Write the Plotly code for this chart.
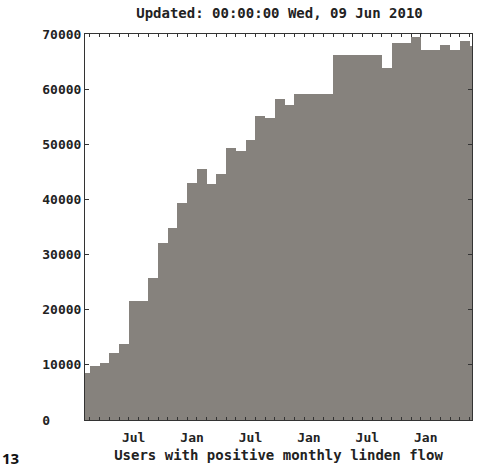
import plotly.graph_objects as go

# Monthly values, Feb 2007 .. Jun 2010 (partial last month)
months = ["2007-02", "2007-03", "2007-04", "2007-05", "2007-06", "2007-07", "2007-08",
          "2007-09", "2007-10", "2007-11", "2007-12", "2008-01", "2008-02", "2008-03",
          "2008-04", "2008-05", "2008-06", "2008-07", "2008-08", "2008-09", "2008-10",
          "2008-11", "2008-12", "2009-01", "2009-02", "2009-03", "2009-04", "2009-05",
          "2009-06", "2009-07", "2009-08", "2009-09", "2009-10", "2009-11", "2009-12",
          "2010-01", "2010-02", "2010-03", "2010-04", "2010-05", "2010-06"]
users = [8600, 9800, 10400, 12200, 13700, 21600, 21600,
         25700, 32100, 34800, 39300, 43000, 45600, 42800,
         44700, 49300, 48700, 50800, 55100, 54700, 58200,
         57100, 59200, 59200, 59200, 59200, 66200, 66200,
         66200, 66200, 66200, 63900, 68300, 68300, 69500,
         67100, 67100, 68000, 67100, 68700, 67900]

tick_months = ["2007-07", "2008-01", "2008-07", "2009-01", "2009-07", "2010-01"]
tick_labels = ["Jul", "Jan", "Jul", "Jan", "Jul", "Jan"]
y_ticks = [0, 10000, 20000, 30000, 40000, 50000, 60000, 70000]
y_tick_text = ["0\u00a0\u00a0\u00a0\u00a0", "10000", "20000", "30000", "40000", "50000", "60000", "70000"]

title = "Updated: 00:00:00 Wed, 09 Jun 2010"
x_title = "Users with positive monthly linden flow"

idx = {m: i for i, m in enumerate(months)}
xs = [i + 0.5 for i in range(len(months))]

FONT = "DejaVu Sans Mono"
fig = go.Figure()
fig.add_trace(go.Bar(x=xs, y=users, width=1.0,
                     marker=dict(color="#86827d", line=dict(width=0))))

fig.update_layout(
    width=477, height=468,
    margin=dict(l=85, r=5, t=34, b=48),
    paper_bgcolor="white", plot_bgcolor="white",
    bargap=0, showlegend=False,
    font=dict(family=FONT, size=12, color="#222"),
    title=dict(text="<b>" + title + "</b>", x=279.5 / 477, xanchor="center",
               y=1 - 13 / 468, yanchor="middle",
               font=dict(family=FONT, size=14, color="#222")),
)
fig.update_xaxes(
    range=[0.5, 40.25],
    tickmode="array",
    tickvals=[idx[m] + 0.5 for m in tick_months],
    ticktext=["<b>" + t + "</b>" for t in tick_labels],
    ticks="", showgrid=False, zeroline=False, ticklabelstandoff=5,
    showline=True, linecolor="#333", linewidth=1, mirror="ticks",
    minor=dict(tickmode="array", tickvals=list(range(1, 41)), ticks="inside",
               ticklen=3, tickcolor="#333", showgrid=False),
    tickfont=dict(family=FONT, size=13, color="#222"),
    title=dict(text="<b>" + x_title + "</b>", standoff=6,
               font=dict(family=FONT, size=14, color="#222")),
)
fig.update_yaxes(
    range=[0, 70000],
    tickmode="array", tickvals=y_ticks,
    ticktext=["<b>" + t + "</b>" for t in y_tick_text],
    ticks="inside", ticklen=4, tickcolor="#333",
    showgrid=False, zeroline=False,
    showline=True, linecolor="#333", linewidth=1, mirror="ticks",
    tickfont=dict(family=FONT, size=13, color="#222"),
)
fig.add_annotation(text="<b>13</b>", xref="paper", yref="paper",
                   x=-85 / 387, y=-(458 - 420) / 386,
                   xanchor="left", yanchor="middle", showarrow=False,
                   font=dict(family="Open Sans", size=15, color="#111"))

fig.write_html("out.html", config={"displayModeBar": False},
               post_script="document.body.style.margin='0';")
